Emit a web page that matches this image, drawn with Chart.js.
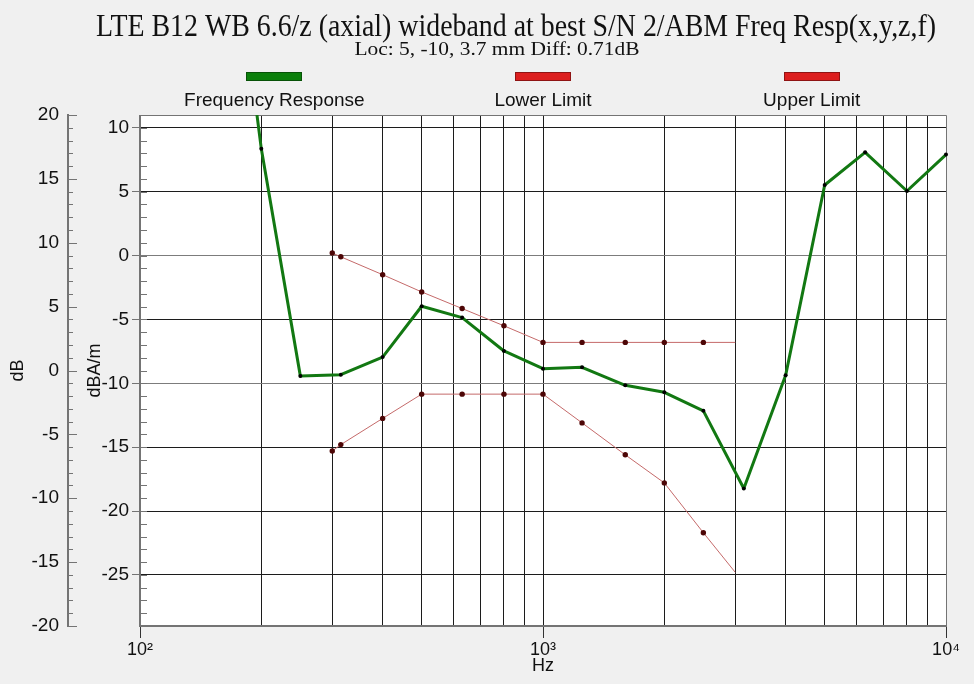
<!DOCTYPE html>
<html>
<head>
<meta charset="utf-8">
<title>Freq Resp</title>
<script src="https://cdn.jsdelivr.net/npm/chart.js@4/dist/chart.umd.min.js"></script>
<style>
  html, body { margin: 0; padding: 0; background: #f0f0f0; }
  #wrap { width: 974px; height: 684px; }
</style>
</head>
<body>
<div id="wrap"><canvas id="respChart" width="974" height="684"></canvas></div>
<script>
"use strict";

// measured curve (dBA/m) at the third-octave centres
const respFreqs = [160, 200, 250, 315, 400, 500, 630, 800, 1000, 1250, 1600, 2000, 2500, 3150, 4000, 5000, 6300, 8000, 10000];
const respValues = [32.2, 8.35, -9.44, -9.33, -7.95, -3.97, -4.86, -7.47, -8.86, -8.75, -10.16, -10.71, -12.16, -18.24, -9.38, 5.52, 8.08, 5.05, 7.9];

// limit mask
const limitFreqs = [300, 315, 400, 500, 630, 800, 1000, 1250, 1600, 2000, 2500, 3000];
const lowerLimit = [-15.3, -14.8, -12.75, -10.85, -10.85, -10.85, -10.85, -13.1, -15.6, -17.8, -21.7, -24.8];
const upperLimit = [0.2, -0.1, -1.5, -2.85, -4.15, -5.5, -6.8, -6.8, -6.8, -6.8, -6.8, -6.8];

const seriesNames = ["Frequency Response", "Lower Limit", "Upper Limit"];

// axis ticks
const xTicks = [100, 200, 300, 400, 500, 600, 700, 800, 900,
  1000, 2000, 3000, 4000, 5000, 6000, 7000, 8000, 9000, 10000];
const xDecades = [100, 1000, 10000];
const xDecadeLabels = ["10\u00B2", "10\u00B3", "10\u2074"];
const dbaTicks = [-25, -20, -15, -10, -5, 0, 5, 10];
const dbTicks = [-20, -15, -10, -5, 0, 5, 10, 15, 20];

const legendColors = ["#0b7f0b", "#dc1e1e", "#dc1e1e"];
const axisGray = "#747474";
const txtFont = "Liberation Sans";

function toPoints(xs, ys) {
  return xs.map((x, i) => ({ x: x, y: ys[i] }));
}

// draw text squeezed or stretched to a given width
function fittedText(ctx, text, cx, baseline, font, targetW) {
  ctx.save();
  ctx.font = font;
  const w = ctx.measureText(text).width;
  ctx.translate(cx, baseline);
  ctx.scale(targetW / w, 1);
  ctx.textAlign = "center";
  ctx.textBaseline = "alphabetic";
  ctx.fillText(text, 0, 0);
  ctx.restore();
}

// background, frame, minor ticks, titles and the legend
const decorPlugin = {
  id: "decor",
  beforeDraw(chart) {
    const { ctx, chartArea: a } = chart;
    ctx.save();
    ctx.fillStyle = "#f0f0f0";
    ctx.fillRect(0, 0, chart.width, chart.height);
    ctx.fillStyle = "#ffffff";
    ctx.fillRect(a.left, a.top, a.right - a.left, a.bottom - a.top);
    ctx.restore();
  },
  beforeDatasetsDraw(chart) {
    const { ctx, chartArea: a, scales } = chart;
    ctx.save();
    ctx.strokeStyle = axisGray;
    ctx.lineWidth = 1;
    ctx.beginPath();
    ctx.moveTo(a.left, a.top + 0.5);
    ctx.lineTo(a.right + 0.5, a.top + 0.5);
    ctx.lineTo(a.right + 0.5, a.bottom);
    ctx.stroke();
    ctx.lineWidth = 2;
    ctx.beginPath();
    ctx.moveTo(a.left, a.top);
    ctx.lineTo(a.left, a.bottom);
    ctx.lineTo(a.right + 1, a.bottom);
    ctx.stroke();

    // minor ticks of dBA/m, inside the plot
    ctx.lineWidth = 1;
    ctx.beginPath();
    for (let v = -29; v <= 11; v++) {
      const y = Math.round(scales.y.getPixelForValue(v)) + 0.5;
      ctx.moveTo(a.left, y);
      ctx.lineTo(a.left + 7, y);
    }
    ctx.stroke();

    // dB axis ticks point to the right
    const xDb = scales.yDb.right;
    ctx.beginPath();
    for (let v = -20; v <= 20; v++) {
      const y = Math.round(scales.yDb.getPixelForValue(v)) + 0.5;
      ctx.moveTo(xDb, y);
      ctx.lineTo(xDb + (v % 5 === 0 ? 9 : 5), y);
    }
    ctx.stroke();
    ctx.restore();
  },
  afterDraw(chart) {
    const { ctx, chartArea: a } = chart;
    ctx.save();
    ctx.fillStyle = "#111";
    fittedText(ctx, "LTE B12 WB 6.6/z (axial) wideband at best S/N 2/ABM Freq Resp(x,y,z,f)",
      516, 36, "31px 'Liberation Serif'", 840);
    fittedText(ctx, "Loc: 5, -10, 3.7 mm Diff: 0.71dB", 497, 55, "19px 'Liberation Serif'", 285);

    // legend: a colour bar above each name, in three equal columns
    const colW = (a.right - a.left) / 3;
    chart.data.datasets.forEach((ds, i) => {
      const cx = a.left + colW * (i + 0.5);
      ctx.fillStyle = legendColors[i];
      ctx.fillRect(Math.round(cx - 28), 72, 56, 9);
      ctx.strokeStyle = "rgba(0,0,0,0.35)";
      ctx.lineWidth = 1;
      ctx.strokeRect(Math.round(cx - 28) + 0.5, 72.5, 55, 8);
      ctx.fillStyle = "#111";
      ctx.font = "19px '" + txtFont + "'";
      ctx.textAlign = "center";
      ctx.textBaseline = "alphabetic";
      ctx.fillText(ds.label, cx, 106);
    });
    ctx.restore();
  }
};

const ctx = document.getElementById("respChart").getContext("2d");

const limitRadius = c => (c.dataIndex === limitFreqs.length - 1 ? 0 : 2.7);

new Chart(ctx, {
  type: "line",
  data: {
    datasets: [
      {
        label: seriesNames[0],
        data: toPoints(respFreqs, respValues),
        borderColor: "#127812",
        borderWidth: 3,
        borderJoinStyle: "round",
        pointRadius: 2,
        pointBackgroundColor: "#000",
        pointBorderWidth: 0,
        clip: { left: 0, top: 0, right: 3, bottom: 0 },
        order: 0
      },
      {
        label: seriesNames[1],
        data: toPoints(limitFreqs, lowerLimit),
        borderColor: "#c56a6a",
        borderWidth: 1,
        pointRadius: limitRadius,
        pointBackgroundColor: "#4d0606",
        pointBorderWidth: 0,
        order: 1
      },
      {
        label: seriesNames[2],
        data: toPoints(limitFreqs, upperLimit),
        borderColor: "#c56a6a",
        borderWidth: 1,
        pointRadius: limitRadius,
        pointBackgroundColor: "#4d0606",
        pointBorderWidth: 0,
        order: 2
      }
    ]
  },
  options: {
    responsive: false,
    animation: false,
    layout: { padding: { top: 115, right: 28, left: 0, bottom: 0 } },
    plugins: {
      legend: { display: false },
      tooltip: { enabled: false }
    },
    scales: {
      x: {
        type: "logarithmic",
        min: 100,
        max: 10000,
        afterBuildTicks: s => { s.ticks = xTicks.map(v => ({ value: v })); },
        afterFit: s => { s.height = 58; },
        ticks: {
          autoSkip: false,
          maxRotation: 0,
          padding: 1,
          color: "#111",
          font: { family: txtFont, size: 18 },
          callback: v => {
            const k = xDecades.indexOf(v);
            return k >= 0 ? xDecadeLabels[k] : "";
          }
        },
        grid: {
          color: c => (c.tick && (c.tick.value === 100 || c.tick.value === 10000)) ? "rgba(0,0,0,0)" : "#1c1c1c",
          tickLength: 12,
          tickColor: c => (c.tick && xDecades.includes(c.tick.value)) ? "#333" : "rgba(0,0,0,0)"
        },
        border: { display: false },
        title: {
          display: true,
          text: "Hz",
          color: "#111",
          font: { family: txtFont, size: 18 },
          padding: { top: 0, bottom: 7 }
        }
      },
      y: {
        type: "linear",
        position: "left",
        min: -29,
        max: 11,
        weight: 1,
        afterBuildTicks: s => { s.ticks = dbaTicks.map(v => ({ value: v })); },
        afterFit: s => { s.width = 72; },
        ticks: { color: "#111", padding: 3, font: { family: txtFont, size: 19 } },
        grid: {
          color: c => (c.tick && (c.tick.value === 0 || c.tick.value === -10)) ? "#7c7c7c" : "#1c1c1c",
          tickLength: 8,
          tickColor: axisGray
        },
        border: { display: false },
        title: {
          display: true,
          text: "dBA/m",
          color: "#111",
          font: { family: txtFont, size: 18 },
          padding: { top: 16, bottom: 0 }
        }
      },
      yDb: {
        type: "linear",
        position: "left",
        min: -20,
        max: 20,
        weight: 2,
        afterBuildTicks: s => { s.ticks = dbTicks.map(v => ({ value: v })); },
        afterFit: s => { s.width = 68; },
        ticks: { color: "#111", padding: 9, font: { family: txtFont, size: 19 } },
        grid: { drawOnChartArea: false, drawTicks: false },
        border: { display: true, color: axisGray, width: 2 },
        title: {
          display: true,
          text: "dB",
          color: "#111",
          font: { family: txtFont, size: 18 },
          padding: { top: 7, bottom: 0 }
        }
      }
    }
  },
  plugins: [decorPlugin]
});
</script>
</body>
</html>
